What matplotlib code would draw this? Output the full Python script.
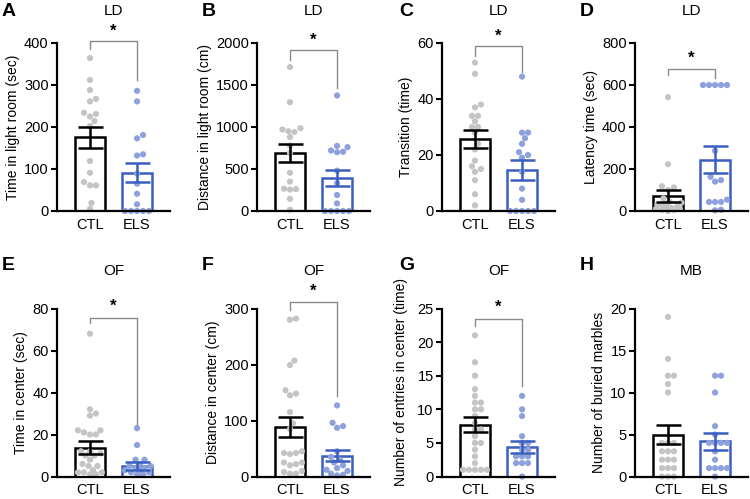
import numpy as np
import matplotlib.pyplot as plt

plt.rcParams['font.family'] = ['Liberation Sans', 'DejaVu Sans']

groups = ['CTL', 'ELS']

# A - LD time in light room
a_ctl = [364, 312, 288, 267, 261, 234, 231, 225, 214, 202, 119, 91, 69, 61, 61, 19, 5]
a_els = [286, 261, 181, 173, 135, 132, 89, 65, 41, 16, 0, 0, 0, 0, 0]
a_mean = [176, 91]
a_sem = [25, 23]

# B - LD distance in light room
b_ctl = [1713, 1295, 985, 970, 950, 940, 880, 780, 690, 455, 350, 265, 260, 255, 145, 15]
b_els = [1375, 775, 760, 720, 705, 700, 480, 330, 190, 90, 0, 0, 0, 0, 0]
b_mean = [690, 390]
b_sem = [105, 97]

# C - LD transitions
c_ctl = [53, 49, 38, 37, 34, 34, 32, 30, 30, 28, 24, 22, 18, 16, 15, 14, 11, 6, 2]
c_els = [48, 28, 28, 26, 24, 21, 20, 19, 14, 8, 4, 0, 0, 0, 0, 0]
c_mean = [25.8, 14.7]
c_sem = [3.3, 3.5]

# D - LD latency
d_ctl = [542, 223, 118, 112, 100, 60, 45, 40, 30, 25, 20, 20, 15, 10, 10, 5, 5, 0]
d_els = [600, 600, 600, 600, 600, 287, 163, 147, 140, 54, 43, 43, 43, 6, 3]
d_mean = [72, 245]
d_sem = [30, 65]

# E - OF time in center
e_ctl = [68, 32, 30, 29, 22, 22, 21, 20, 20, 12, 12, 11, 10, 10, 8, 6, 5, 5, 3, 2, 2, 2, 1, 1]
e_els = [23, 15, 8, 8, 6, 5, 5, 4, 4, 3, 3, 2, 2, 1, 1]
e_mean = [13.7, 5.0]
e_sem = [3.2, 1.7]

# F - OF distance in center
f_ctl = [282, 280, 207, 199, 154, 148, 145, 115, 95, 85, 45, 42, 42, 40, 25, 25, 22, 20, 10, 8, 5, 5]
f_els = [127, 96, 90, 87, 45, 35, 30, 25, 20, 15, 12, 10, 5, 3, 2]
f_mean = [89, 37]
f_sem = [18, 10]

# G - OF entries in center
g_ctl = [21, 17, 15, 13, 12, 11, 11, 10, 10, 9, 8, 7, 7, 6, 5, 5, 4, 3, 2, 1, 1, 1, 1, 1]
g_els = [12, 10, 9, 6, 5, 5, 4, 4, 3, 3, 3, 2, 2, 2, 0]
g_mean = [7.7, 4.4]
g_sem = [1.1, 0.9]

# H - marble burying
h_ctl = [19, 14, 12, 12, 11, 10, 4, 4, 4, 3, 3, 3, 2, 2, 2, 1, 1, 1, 0, 0, 0]
h_els = [12, 12, 10, 6, 5, 4, 4, 4, 4, 3, 2, 1, 1, 1, 1, 0]
h_mean = [5.0, 4.2]
h_sem = [1.15, 1.0]

# significance brackets: (bracket y, left leg end, right leg end, star y)
a_sig = (404, 386, 312, 428)
b_sig = (1920, 1800, 1462, 2030)
c_sig = (58.8, 55.2, 49.8, 62.5)
d_sig = (677, 649, 633, 725)
e_sig = (75.7, 73.3, 24.7, 81)
f_sig = (312, 297, 143, 330)
g_sig = (23.5, 22.4, 13.4, 25.2)

panels = [
    ('A', 'LD', 'Time in light room (sec)', a_ctl, a_els, a_mean, a_sem, 400, 100, a_sig),
    ('B', 'LD', 'Distance in light room (cm)', b_ctl, b_els, b_mean, b_sem, 2000, 500, b_sig),
    ('C', 'LD', 'Transition (time)', c_ctl, c_els, c_mean, c_sem, 60, 20, c_sig),
    ('D', 'LD', 'Latency time (sec)', d_ctl, d_els, d_mean, d_sem, 800, 200, d_sig),
    ('E', 'OF', 'Time in center (sec)', e_ctl, e_els, e_mean, e_sem, 80, 20, e_sig),
    ('F', 'OF', 'Distance in center (cm)', f_ctl, f_els, f_mean, f_sem, 300, 100, f_sig),
    ('G', 'OF', 'Number of entries in center (time)', g_ctl, g_els, g_mean, g_sem, 25, 5, g_sig),
    ('H', 'MB', 'Number of buried marbles', h_ctl, h_els, h_mean, h_sem, 20, 5, None),
]

W, H = 750, 499
ax_w, ax_h = 113, 168
lefts = [57, 257, 442, 635]
tops = [43, 308.5]
letter_x = [2, 202, 399, 580]
letter_y = [12, 266]
xlim = (-0.7, 1.7)

edge_cols = ['black', '#3a5fbf']
dot_cols = ['#c4c4c4', '#8ea1dc']


def swarm(vals, ytop, d=6.0, maxw=14):
    # greedy beeswarm in pixel space, kept within +-maxw px of the centre
    vals = np.asarray(vals, float)
    ypx = ax_h / ytop
    xpx = ax_w / (xlim[1] - xlim[0])
    order = np.argsort(vals)
    offs = np.zeros(len(vals))
    placed = []
    steps = [0]
    k = 1
    while k * d / 4 <= maxw:
        steps += [k * d / 4, -k * d / 4]
        k += 1
    for i in order:
        y = vals[i] * ypx
        best, best_gap = 0, -1
        for x in steps:
            gap = min([np.hypot(x - px, y - py) for px, py in placed] or [99])
            if gap >= d * 0.98:
                best = x
                break
            if gap > best_gap + 0.5:
                best, best_gap = x, gap
        placed.append((best, y))
        offs[i] = best / xpx
    return offs


fig = plt.figure(figsize=(W / 100, H / 100), dpi=100)

for n, (letter, title, ylab, ctl, els, means, sems, ytop, ystep, sig) in enumerate(panels):
    row, col = divmod(n, 4)
    ax = fig.add_axes([lefts[col] / W, (H - tops[row] - ax_h) / H, ax_w / W, ax_h / H])
    ax.bar([0, 1], means, width=0.64, color='white', edgecolor=edge_cols,
           linewidth=1.8, zorder=1)
    for i, vals in enumerate([ctl, els]):
        xs = i + swarm(vals, ytop)
        ax.scatter(xs, vals, s=20, color=dot_cols[i], edgecolor='none', zorder=2, clip_on=False)
        ax.errorbar(i, means[i], yerr=sems[i], color=edge_cols[i], capsize=9,
                    elinewidth=1.8, capthick=1.8, zorder=3)
    ax.set_xlim(*xlim)
    ax.set_ylim(0, ytop)
    ax.set_yticks(np.arange(0, ytop + ystep / 2, ystep))
    ax.set_xticks([0, 1])
    ax.set_xticklabels(groups)
    ax.tick_params(axis='x', length=0, labelsize=10.5, pad=5)
    ax.tick_params(axis='y', length=4, width=1.5, labelsize=10.5, pad=2)
    ax.spines['top'].set_visible(False)
    ax.spines['right'].set_visible(False)
    ax.spines['left'].set_linewidth(1.6)
    ax.spines['bottom'].set_linewidth(1.6)
    ax.set_ylabel(ylab, fontsize=10, labelpad=3)
    if letter == 'G':
        ax.yaxis.set_label_coords(-0.3, 0.56)
    ax.text(0.5, 1 + (tops[row] - [11, 271][row]) / ax_h, title, transform=ax.transAxes,
            ha='center', va='center', fontsize=11)
    fig.text(letter_x[col] / W, 1 - letter_y[row] / H, letter, ha='left', va='center',
             fontsize=14, fontweight='bold')
    if sig:
        yb, yl, yr, ys = sig
        ax.plot([0, 0, 1, 1], [yl, yb, yb, yr], color='#8a8a8a', lw=1, clip_on=False)
        ax.text(0.5, ys, '*', ha='center', va='center', fontsize=12, fontweight='bold')

fig.savefig('out.png', dpi=100)
